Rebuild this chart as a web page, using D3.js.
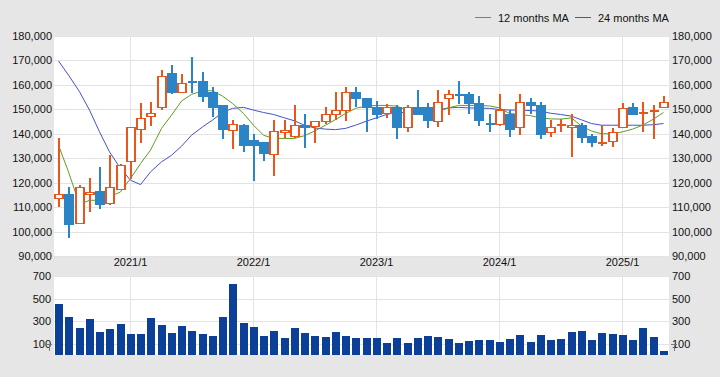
<!DOCTYPE html>
<html>
<head>
<meta charset="utf-8">
<script src="https://cdn.jsdelivr.net/npm/d3@7"></script>
<style>
  body { margin: 0; background: #e6e6e6; }
  svg { display: block; font-family: "Liberation Sans", Arial, sans-serif; }
</style>
</head>
<body>
<div id="container"></div>
<script>
// monthly candles, 2020/6 .. 2025/5
var months = ["2020/6","2020/7","2020/8","2020/9","2020/10","2020/11","2020/12",
  "2021/1","2021/2","2021/3","2021/4","2021/5","2021/6","2021/7","2021/8","2021/9","2021/10","2021/11","2021/12",
  "2022/1","2022/2","2022/3","2022/4","2022/5","2022/6","2022/7","2022/8","2022/9","2022/10","2022/11","2022/12",
  "2023/1","2023/2","2023/3","2023/4","2023/5","2023/6","2023/7","2023/8","2023/9","2023/10","2023/11","2023/12",
  "2024/1","2024/2","2024/3","2024/4","2024/5","2024/6","2024/7","2024/8","2024/9","2024/10","2024/11","2024/12",
  "2025/1","2025/2","2025/3","2025/4","2025/5"];

var opens = [113900,115500,103600,115500,116400,111800,117300,
  129000,141800,147200,150800,164800,156900,161400,161600,157000,151700,141700,143500,
  137400,136600,131900,140900,138900,143700,143300,145400,147900,149900,157000,154600,
  150900,148700,150900,142600,150900,150900,145400,154500,156200,156100,152400,144300,
  144200,147900,142600,153200,151700,140900,143600,142600,143500,138900,136300,137200,
  142600,150900,148600,149700,150900];

var highs = [138100,118300,119200,121800,126300,131200,127500,
  142800,152700,153200,166100,168100,164400,171400,165200,159100,151800,145600,144200,
  140100,136700,145600,145600,151700,148000,145400,150900,157000,159100,159100,154700,
  153400,152300,151700,151700,157800,152600,157800,157800,161600,157200,155500,147900,
  156100,149900,156100,154500,153200,145600,146100,147900,144600,140000,143500,142400,
  152500,152500,153200,151700,155500];

var lows = [110000,97500,103500,108000,109200,110700,117000,
  121700,136400,143200,149800,156100,156800,156500,153100,147000,137900,133600,132600,
  120700,128900,122800,138100,138100,134300,136300,143900,145600,145300,150900,140800,
  146100,146300,137900,140800,148000,142400,142600,147800,152100,147900,143200,140800,
  143200,138700,139400,147900,137900,138700,140800,130500,136400,134400,135100,134400,
  142500,147900,140800,137900,150800];

var closes = [115500,103000,118400,116300,111300,118400,127400,
  142600,146300,148700,163500,157200,160600,161200,155500,151000,142000,144200,135600,
  135600,132200,141100,141700,143500,142800,145300,147900,149900,156900,154700,151000,
  148200,150800,142800,150900,148000,145700,153200,156100,156000,152700,145700,144100,
  149900,142000,153200,151700,140000,142600,143800,143500,138500,136700,136500,140900,
  150600,148200,148800,149900,153200];

// volume (thousand shares)
var volumes = [452,337,239,316,204,230,275,
  186,186,325,266,195,254,213,186,168,337,629,284,
  248,168,213,151,239,195,168,159,204,168,151,151,
  151,106,151,106,151,168,159,142,106,124,133,133,
  115,142,177,115,177,133,142,204,213,133,195,186,
  177,133,239,159,35];

// moving averages
var ma12 = [135300,124400,111100,112800,112800,114200,116200,
  121700,127800,133300,142200,147600,153400,156100,157600,157600,155400,152400,148300,
  143500,139400,138100,138100,138100,139200,141100,143500,145800,148300,150400,151300,
  151600,151600,151300,149700,148200,148200,149000,150600,151600,151600,151600,151400,
  150600,148300,147900,147400,146500,146100,146000,146500,143100,141100,140000,140000,
  140800,141900,143500,146000,148700];

var ma24 = [169800,164000,157200,149700,140800,132600,125800,
  121000,119200,124400,128500,131200,134900,139400,142800,145600,148700,150400,150800,
  149700,148700,147900,146500,145300,143500,142400,141900,141700,142200,143500,145200,
  146500,147900,148700,148700,148700,149300,149700,150600,150800,150600,150500,150400,
  149900,149700,149700,149500,149300,148400,147900,147200,145700,144200,143500,143500,
  143500,143500,143500,143700,144200];

var priceTicks = [90000,100000,110000,120000,130000,140000,150000,160000,170000,180000];
var volTicks = [100,300,500,700];
var yearLabels = ["2021/1","2022/1","2023/1","2024/1","2025/1"];

var W = 720, H = 377;
var left = 54, right = 669;
var upColor = "#e8561c", downColor = "#2a84c6";
var ma12Color = "#5f9e22", ma24Color = "#4450cc";
var gridColor = "#e3e3e3";

var svg = d3.select("#container").append("svg")
  .attr("width", W).attr("height", H);

var x = d3.scaleBand().domain(months).range([left, right]).paddingInner(0.2).paddingOuter(0.1);
function cx(m) { return Math.round(x(m) + x.bandwidth() / 2) - 0.5; }
var bw = 7;

var yP = d3.scaleLinear().domain([90000, 180000]).range([256, 36]);
var yV = d3.scaleLinear().domain([0, 700]).range([355, 276]);

// plot backgrounds
svg.append("rect").attr("x", left).attr("y", 36).attr("width", right - left).attr("height", 220).attr("fill", "#fff");
svg.append("rect").attr("x", left).attr("y", 276).attr("width", right - left).attr("height", 79).attr("fill", "#fff");

// grid
var grid = svg.append("g").attr("shape-rendering", "crispEdges").attr("stroke", gridColor);
grid.selectAll(".hp").data(priceTicks).enter().append("line")
  .attr("x1", left).attr("x2", right)
  .attr("y1", function(d) { return Math.round(yP(d)) + 0.5; })
  .attr("y2", function(d) { return Math.round(yP(d)) + 0.5; });
grid.selectAll(".hv").data(volTicks).enter().append("line")
  .attr("x1", left).attr("x2", right)
  .attr("y1", function(d) { return Math.round(yV(d)) + 0.5; })
  .attr("y2", function(d) { return Math.round(yV(d)) + 0.5; });
grid.selectAll(".vp").data(yearLabels).enter().append("line")
  .attr("x1", function(d) { return cx(d); }).attr("x2", function(d) { return cx(d); })
  .attr("y1", 36).attr("y2", 256);
grid.selectAll(".vv").data(yearLabels).enter().append("line")
  .attr("x1", function(d) { return cx(d); }).attr("x2", function(d) { return cx(d); })
  .attr("y1", 276).attr("y2", 355);

// moving average lines
var line = function(vals) {
  return d3.line().x(function(d, i) { return cx(months[i]); }).y(function(d) { return yP(d); })(vals);
};
svg.append("path").attr("d", line(ma24)).attr("fill", "none").attr("stroke", ma24Color).attr("stroke-width", 1);
svg.append("path").attr("d", line(ma12)).attr("fill", "none").attr("stroke", ma12Color).attr("stroke-width", 1);

// candles
var candles = svg.append("g").attr("shape-rendering", "crispEdges");
months.forEach(function(m, i) {
  var up = closes[i] >= opens[i];
  var col = up ? upColor : downColor;
  var c = cx(m);
  var top = Math.round(yP(Math.max(opens[i], closes[i])));
  var bot = Math.round(yP(Math.min(opens[i], closes[i])));
  candles.append("line")
    .attr("x1", c + 0.5).attr("x2", c + 0.5)
    .attr("y1", Math.round(yP(highs[i]))).attr("y2", Math.round(yP(lows[i])))
    .attr("stroke", col).attr("stroke-width", 2);
  if (bot - top < 2) {
    candles.append("line")
      .attr("x1", c - bw / 2 - 0.5).attr("x2", c + bw / 2 + 1.5)
      .attr("y1", top + 0.5).attr("y2", top + 0.5)
      .attr("stroke", col).attr("stroke-width", 2);
  } else {
    candles.append("rect")
      .attr("x", c - bw / 2).attr("y", top + 0.5)
      .attr("width", bw + 1).attr("height", bot - top)
      .attr("fill", up ? "#fff" : col)
      .attr("stroke", col).attr("stroke-width", 1.5);
  }
});

// volume bars
svg.append("g").attr("shape-rendering", "crispEdges")
  .selectAll("rect").data(volumes).enter().append("rect")
  .attr("x", function(d, i) { return cx(months[i]) - 3.5; })
  .attr("width", 8)
  .attr("y", function(d) { return Math.round(yV(d)); })
  .attr("height", function(d) { return 355 - Math.round(yV(d)); })
  .attr("fill", "#0c3f98");

// axis labels
var txt = svg.append("g").attr("font-size", 11).attr("fill", "#111");
txt.selectAll(".pl").data(priceTicks).enter().append("text")
  .attr("x", 52).attr("y", function(d) { return yP(d) + 4; })
  .attr("text-anchor", "end").text(d3.format(","));
txt.selectAll(".pr").data(priceTicks).enter().append("text")
  .attr("x", 672).attr("y", function(d) { return yP(d) + 4; })
  .text(d3.format(","));
txt.selectAll(".vl").data(volTicks).enter().append("text")
  .attr("x", 51).attr("y", function(d) { return yV(d) + 4; })
  .attr("text-anchor", "end").text(function(d) { return d; });
txt.selectAll(".vr").data(volTicks).enter().append("text")
  .attr("x", 672).attr("y", function(d) { return yV(d) + 4; })
  .text(function(d) { return d; });
txt.selectAll(".xl").data(yearLabels).enter().append("text")
  .attr("x", function(d) { return cx(d); }).attr("y", 266)
  .attr("text-anchor", "middle").text(function(d) { return d; });

// small unit marks at the volume baseline
[49, 674].forEach(function(px) {
  svg.append("path")
    .attr("d", "M" + (px - 3) + "," + 344.5 + "H" + (px + 3) + "M" + (px + 0.5) + ",344V351")
    .attr("stroke", "#777").attr("fill", "none").attr("shape-rendering", "crispEdges");
});

// legend
var legend = svg.append("g").attr("font-size", 11);
var items = [["12 months MA", ma12Color, 475], ["24 months MA", ma24Color, 575]];
items.forEach(function(it) {
  legend.append("rect").attr("x", it[2]).attr("y", 17)
    .attr("width", 16).attr("height", 1).attr("fill", it[1]);
  legend.append("text").attr("x", it[2] + 23).attr("y", 21.5).attr("fill", "#111").text(it[0]);
});
</script>
</body>
</html>
